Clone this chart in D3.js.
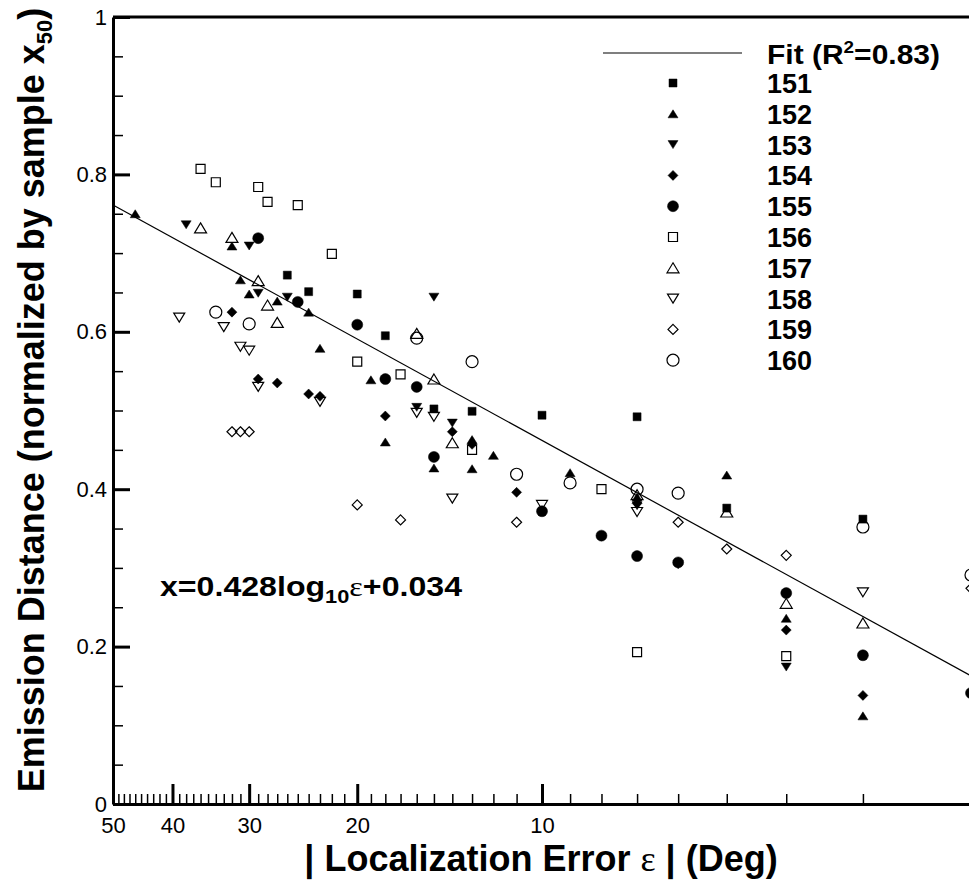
<!DOCTYPE html>
<html><head><meta charset="utf-8">
<script src="https://cdn.jsdelivr.net/npm/d3@7"></script>
<style>body{margin:0;background:#fff}svg{display:block}</style>
</head><body>
<svg id="c" width="969" height="884"></svg>
<script>
// ---------------- data ----------------
const seriesNames = ["151","152","153","154","155","156","157","158","159","160"];
// [localization error (deg), normalized emission distance]
const s151 = [[26,0.672],[24,0.651],[20,0.648],[18,0.595],[15,0.502],[13,0.499],[10,0.494],[7,0.492],[5,0.376],[3,0.362]];
const s152 = [[46,0.750],[32,0.709],[31,0.666],[30,0.648],[27,0.639],[24,0.625],[23,0.579],[19,0.539],[18,0.460],[15,0.427],[13,0.463],[13,0.426],[12,0.443],[9,0.421],[7,0.390],[5,0.418],[4,0.236],[3,0.112]];
const s153 = [[38,0.736],[30,0.709],[29,0.649],[26,0.644],[15,0.644],[16,0.504],[14,0.484],[7,0.379],[6,0.304],[4,0.174]];
const s154 = [[32,0.625],[29,0.540],[27,0.535],[24,0.521],[23,0.518],[18,0.493],[14,0.473],[13,0.457],[11,0.396],[7,0.382],[4,0.221],[3,0.138]];
const s155 = [[29,0.719],[25,0.638],[20,0.609],[18,0.540],[16,0.530],[15,0.441],[10,0.372],[8,0.341],[7,0.315],[6,0.307],[4,0.268],[3,0.189],[2,0.141]];
const s156 = [[36,0.807],[34,0.790],[29,0.784],[28,0.765],[25,0.761],[22,0.699],[20,0.562],[17,0.546],[13,0.450],[8,0.400],[7,0.193],[4,0.188]];
const s157 = [[36,0.732],[32,0.720],[29,0.665],[28,0.634],[27,0.612],[16,0.598],[15,0.540],[14,0.459],[7,0.393],[5,0.371],[4,0.255],[3,0.230]];
const s158 = [[39,0.618],[33,0.606],[31,0.581],[30,0.576],[29,0.530],[23,0.511],[16,0.497],[15,0.492],[14,0.388],[10,0.380],[7,0.371],[3,0.269]];
const s159 = [[32,0.473],[31,0.473],[30,0.473],[20,0.380],[17,0.361],[11,0.358],[6,0.358],[5,0.324],[4,0.316],[2,0.274]];
const s160 = [[34,0.625],[30,0.610],[16,0.592],[13,0.562],[11,0.419],[9,0.408],[7,0.400],[6,0.395],[3,0.352],[2,0.291]];
const seriesData = [s151,s152,s153,s154,s155,s156,s157,s158,s159,s160];

const yMajorTicks = [0,0.2,0.4,0.6,0.8,1];
const yMinorTicks = [0.05,0.1,0.15,0.25,0.3,0.35,0.45,0.5,0.55,0.65,0.7,0.75,0.85,0.9,0.95];
const xMajorTicks = [50,40,30,20,10];
const xMinorTicks = [49,48,47,46,45,44,43,42,41,39,38,37,36,35,34,33,32,31,29,28,27,26,25,24,23,22,21,19,18,17,16,15,14,13,12,11,9,8,7,6,5,4,3];
const fitSlope = 0.428, fitIntercept = 0.034;
const fitRange = [50, 2];

// ---------------- chart ----------------
const svg = d3.select("#c");
const x = d3.scaleLog().domain([50, 2]).range([113, 971]);
const y = d3.scaleLinear().domain([0, 1]).range([804, 17]);
const font = "'Liberation Sans', Arial, Helvetica, sans-serif";
const serif = "'Liberation Serif', 'Times New Roman', serif";

// frame
svg.append("line").attr("x1", 113).attr("x2", 975).attr("y1", y(1)).attr("y2", y(1))
  .attr("stroke", "#000").attr("stroke-width", 3);
svg.append("line").attr("x1", 975).attr("x2", 975).attr("y1", y(1)).attr("y2", y(0))
  .attr("stroke", "#000").attr("stroke-width", 3);

// y axis
const yMinor = svg.append("g").attr("transform", "translate(113,0)")
  .call(d3.axisLeft(y).tickValues(yMinorTicks).tickSize(-10).tickSizeOuter(0).tickFormat(""));
yMinor.select(".domain").remove();
yMinor.selectAll("line").attr("stroke-width", 1.5);
const yAx = svg.append("g").attr("transform", "translate(113,0)")
  .call(d3.axisLeft(y).tickValues(yMajorTicks).tickSize(-17).tickSizeOuter(0).tickPadding(6)
    .tickFormat(d => (d === 0 || d === 1) ? String(d) : d.toFixed(1)));
yAx.select(".domain").attr("stroke-width", 3);
yAx.selectAll(".tick line").attr("stroke-width", 3);
yAx.selectAll("text").attr("font-family", font).attr("font-size", 22).attr("fill", "#000");

// x axis
const xMinor = svg.append("g").attr("transform", `translate(0,${y(0)})`)
  .call(d3.axisBottom(x).tickValues(xMinorTicks).tickSize(-10).tickSizeOuter(0).tickFormat(""));
xMinor.select(".domain").remove();
xMinor.selectAll("line").attr("stroke-width", 1.5);
const xAx = svg.append("g").attr("transform", `translate(0,${y(0)})`)
  .call(d3.axisBottom(x).tickValues(xMajorTicks).tickSize(-20).tickSizeOuter(0).tickPadding(13)
    .tickFormat(d3.format("d")));
xAx.select(".domain").attr("stroke-width", 3);
xAx.selectAll(".tick line").attr("stroke-width", 3);
xAx.selectAll("text").attr("font-family", font).attr("font-size", 22).attr("fill", "#000");

// fit line
const fitLine = d3.line().x(d => x(d)).y(d => y(fitSlope * Math.log10(d) + fitIntercept));
svg.append("path").attr("d", fitLine(fitRange)).attr("fill", "none")
  .attr("stroke", "#000").attr("stroke-width", 1.2);

// markers
function markerPath(t, s, h) {
  const r = s / 2;
  switch (t) {
    case "square": return `M${-r},${-r}h${s}v${s}h${-s}Z`;
    case "triUp": return `M0,${-h/2}L${r},${h/2}L${-r},${h/2}Z`;
    case "triDown": return `M0,${h/2}L${r},${-h/2}L${-r},${-h/2}Z`;
    case "diamond": return `M0,${-r}L${r},0L0,${r}L${-r},0Z`;
    case "circle": return `M${r},0A${r},${r} 0 1,1 ${-r},0A${r},${r} 0 1,1 ${r},0Z`;
  }
}
const markers = [
  {t:"square", s:8, h:8, filled:true},
  {t:"triUp", s:10, h:8, filled:true},
  {t:"triDown", s:10, h:8, filled:true},
  {t:"diamond", s:10, h:10, filled:true},
  {t:"circle", s:11, h:11, filled:true},
  {t:"square", s:9, h:9, filled:false},
  {t:"triUp", s:12, h:10, filled:false},
  {t:"triDown", s:11, h:9, filled:false},
  {t:"diamond", s:10, h:10, filled:false},
  {t:"circle", s:12, h:12, filled:false}
];
function styleMarker(sel, m) {
  sel.attr("d", markerPath(m.t, m.s, m.h))
    .attr("fill", m.filled ? "#000" : "none")
    .attr("stroke", "#000")
    .attr("stroke-width", m.filled ? 0.5 : 1.2);
}
seriesData.forEach((data, i) => {
  const m = markers[i];
  svg.append("g").selectAll("path").data(data).join("path")
    .attr("transform", d => `translate(${x(d[0])},${y(d[1])})`)
    .call(styleMarker, m);
});

// legend
const leg = svg.append("g");
leg.append("line").attr("x1", 603).attr("x2", 742).attr("y1", 53).attr("y2", 53)
  .attr("stroke", "#000").attr("stroke-width", 1.2);
const ft = leg.append("text").attr("x", 767).attr("y", 64).attr("font-family", font)
  .attr("font-size", 27).attr("font-weight", "bold")
  .attr("textLength", 173).attr("lengthAdjust", "spacingAndGlyphs");
ft.append("tspan").text("Fit (R");
ft.append("tspan").attr("font-size", 17).attr("dy", -11).text("2");
ft.append("tspan").attr("dy", 11).text("=0.83)");
seriesNames.forEach((name, i) => {
  const cy = 83 + i * 30.8;
  leg.append("path").attr("transform", `translate(673,${cy})`).call(styleMarker, markers[i]);
  leg.append("text").attr("x", 767).attr("y", cy + 10).attr("font-family", font)
    .attr("font-size", 27).attr("font-weight", "bold").text(name);
});

// equation
const eq = svg.append("text").attr("x", 160).attr("y", 596).attr("font-family", font)
  .attr("font-size", 28).attr("font-weight", "bold")
  .attr("textLength", 302).attr("lengthAdjust", "spacingAndGlyphs");
eq.append("tspan").text("x=0.428log");
eq.append("tspan").attr("font-size", 19).attr("dy", 7).text("10");
eq.append("tspan").attr("dy", -7).attr("font-family", serif)
  .attr("font-weight", "normal").text("ε");
eq.append("tspan").text("+0.034");

// x title
const xt = svg.append("text").attr("x", 541).attr("y", 871).attr("text-anchor", "middle")
  .attr("font-family", font).attr("font-size", 36).attr("font-weight", "bold");
xt.append("tspan").text("| Localization Error ");
xt.append("tspan").attr("font-family", serif)
  .attr("font-weight", "normal").text("ε");
xt.append("tspan").text(" | (Deg)");

// y title
const yt = svg.append("text").attr("transform", "translate(44,400) rotate(-90)")
  .attr("text-anchor", "middle").attr("font-family", font).attr("font-size", 36)
  .attr("font-weight", "bold");
yt.append("tspan").text("Emission Distance (normalized by sample x");
yt.append("tspan").attr("font-size", 22).attr("dy", 8).text("50");
yt.append("tspan").attr("dy", -8).text(")");
</script>
</body></html>
